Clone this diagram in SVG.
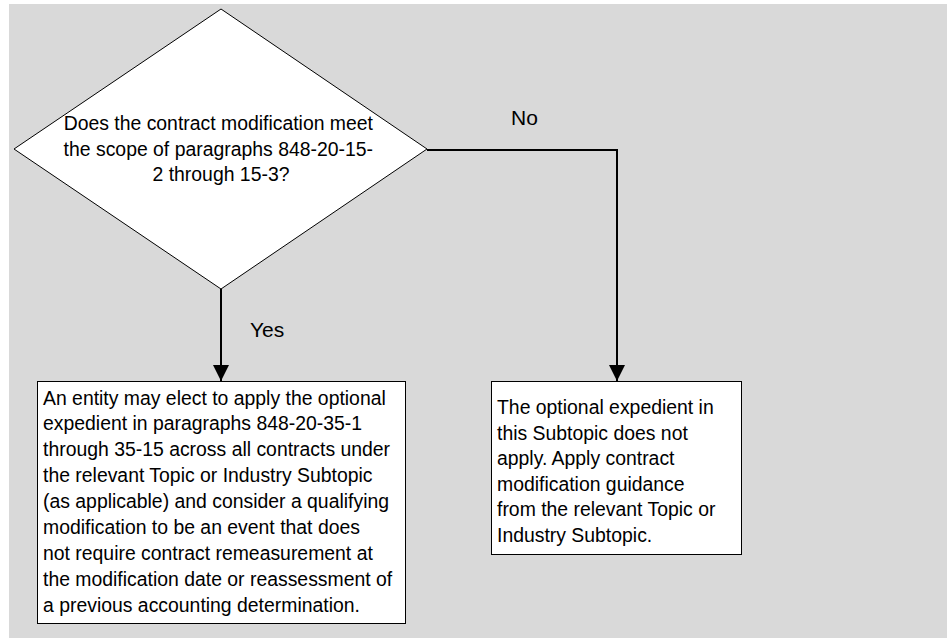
<svg xmlns="http://www.w3.org/2000/svg" width="947" height="638" viewBox="0 0 947 638">
<style>
.t{font-family:"Liberation Sans",Arial,sans-serif;font-size:19.4px;fill:#000}
.lbl{font-family:"Liberation Sans",Arial,sans-serif;font-size:21px;fill:#000}
.shape{fill:#fff;stroke:#000;stroke-width:1}
.conn{fill:none;stroke:#000;stroke-width:2}
</style>
<defs>
<marker id="arr" markerUnits="userSpaceOnUse" markerWidth="18" markerHeight="16" refX="16" refY="8" orient="auto">
<polygon points="0,0 16,8 0,16" fill="#000"/>
</marker>
</defs>
<rect x="9" y="4" width="938" height="634" fill="#d9d9d9"/>
<g id="connectors">
<line class="conn" x1="221" y1="289" x2="221" y2="381" marker-end="url(#arr)"/>
<polyline class="conn" points="427,150 617,150 617,381" marker-end="url(#arr)"/>
<text class="lbl" x="250" y="337">Yes</text>
<text class="lbl" x="511" y="125">No</text>
</g>
<g id="decision">
<polygon class="shape" points="221,9 427,149 221,289 14,149"/>
<text class="t" text-anchor="middle">
<tspan x="221" y="130">Does the contract modification meet</tspan>
<tspan x="221" y="155.5">the scope of paragraphs 848-20-15-</tspan>
<tspan x="221" y="181">2 through 15-3?</tspan>
</text>
</g>
<g id="yes-box">
<rect class="shape" x="37.5" y="381.5" width="368" height="242"/>
<text class="t">
<tspan x="43" y="404.5">An entity may elect to apply the optional</tspan>
<tspan x="43" y="430.4">expedient in paragraphs 848-20-35-1</tspan>
<tspan x="43" y="456.3">through 35-15 across all contracts under</tspan>
<tspan x="43" y="482.2">the relevant Topic or Industry Subtopic</tspan>
<tspan x="43" y="508.1">(as applicable) and consider a qualifying</tspan>
<tspan x="43" y="534">modification to be an event that does</tspan>
<tspan x="43" y="559.9">not require contract remeasurement at</tspan>
<tspan x="43" y="585.8">the modification date or reassessment of</tspan>
<tspan x="43" y="611.7">a previous accounting determination.</tspan>
</text>
</g>
<g id="no-box">
<rect class="shape" x="491.5" y="381.5" width="250" height="173"/>
<text class="t">
<tspan x="497" y="414">The optional expedient in</tspan>
<tspan x="497" y="439.5">this Subtopic does not</tspan>
<tspan x="497" y="465">apply. Apply contract</tspan>
<tspan x="497" y="490.5">modification guidance</tspan>
<tspan x="497" y="516">from the relevant Topic or</tspan>
<tspan x="497" y="541.5">Industry Subtopic.</tspan>
</text>
</g>
</svg>
